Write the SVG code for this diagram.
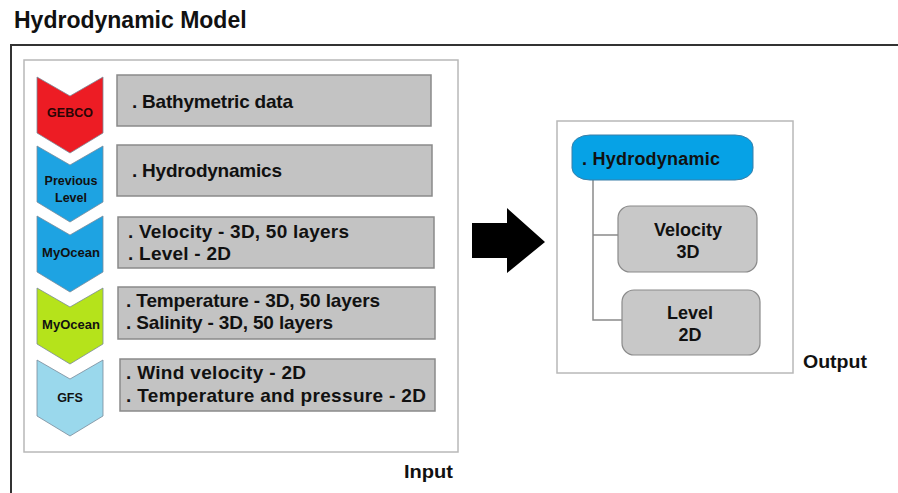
<svg xmlns="http://www.w3.org/2000/svg" width="898" height="493" viewBox="0 0 898 493">
<style>
text{font-family:"Liberation Sans",Arial,sans-serif;font-weight:bold;fill:#111}
.t{font-size:19px}
.c{font-size:12.5px;text-anchor:middle}
.box{fill:#c3c3c3;stroke:#8a8a8a;stroke-width:1.5}
.chev{stroke:#7a8a99;stroke-width:0.8}
.rb{fill:#c8c8c8;stroke:#8a8a8a;stroke-width:1.2}
.frame{fill:#fff;stroke:#b8b8b8;stroke-width:1.5}
.conn{fill:none;stroke:#8a8a8a;stroke-width:1.5}
</style>
<defs>
<path id="chev" d="M0,0 L33,19 L66,0 L66,56 L33,76 L0,56 Z"/>
</defs>
<rect width="898" height="493" fill="#fff"/>
<text x="14" y="28" style="font-size:23px">Hydrodynamic Model</text>
<path d="M11,493 V45 H898" fill="none" stroke="#333" stroke-width="2"/>

<g id="input">
<rect class="frame" x="24" y="60" width="434" height="392"/>
<text class="t" x="404" y="478" textLength="49" lengthAdjust="spacingAndGlyphs">Input</text>
</g>

<g id="gebco">
<use href="#chev" x="37" y="77" fill="#ed1c24" class="chev"/>
<text class="c" x="70" y="117" style="fill:#2a0505">GEBCO</text>
</g>
<g id="previous-level">
<use href="#chev" x="37" y="146" fill="#1ea3e2" class="chev"/>
<text class="c" x="71" y="185">Previous</text>
<text class="c" x="71" y="202">Level</text>
</g>
<g id="myocean-1">
<use href="#chev" x="37" y="216" fill="#1ea3e2" class="chev"/>
<text class="c" x="71" y="257" style="font-size:13px">MyOcean</text>
</g>
<g id="myocean-2">
<use href="#chev" x="37" y="288" fill="#b5e31b" class="chev"/>
<text class="c" x="71" y="329" style="font-size:13px">MyOcean</text>
</g>
<g id="gfs">
<use href="#chev" x="37" y="360" fill="#9ad8ec" class="chev"/>
<text class="c" x="70" y="402">GFS</text>
</g>

<g id="bathymetric">
<rect class="box" x="117" y="75" width="314" height="51"/>
<text class="t" x="132" y="108" textLength="161">. Bathymetric data</text>
</g>
<g id="hydrodynamics">
<rect class="box" x="117" y="145" width="315" height="51"/>
<text class="t" x="132" y="177" textLength="150">. Hydrodynamics</text>
</g>
<g id="velocity-level">
<rect class="box" x="118" y="217" width="316" height="51"/>
<text class="t" x="128" y="238" textLength="221">. Velocity - 3D, 50 layers</text>
<text class="t" x="128" y="260" textLength="103">. Level - 2D</text>
</g>
<g id="temperature-salinity">
<rect class="box" x="118" y="287" width="317" height="52"/>
<text class="t" x="126" y="307" textLength="254">. Temperature - 3D, 50 layers</text>
<text class="t" x="126" y="329" textLength="207">. Salinity - 3D, 50 layers</text>
</g>
<g id="wind-temperature">
<rect class="box" x="120" y="359" width="315" height="52"/>
<text class="t" x="126" y="379" textLength="180">. Wind velocity - 2D</text>
<text class="t" x="126" y="402" textLength="300">. Temperature and pressure - 2D</text>
</g>

<g id="big-arrow">
<path d="M472,223 H507 V208 L545,242 L507,273 V258 H472 Z" fill="#000"/>
</g>

<g id="output">
<rect class="frame" x="557" y="121" width="236" height="252"/>
<text class="t" x="803" y="368" textLength="64" lengthAdjust="spacingAndGlyphs">Output</text>
</g>

<g id="connectors">
<path class="conn" d="M593,180 V320 H622 M593,235 H618"/>
</g>

<g id="hydrodynamic">
<rect x="572" y="135" width="181" height="45" rx="18" ry="12" fill="#06a2e6" stroke="#3a7fa8" stroke-width="1"/>
<text x="582" y="165" style="font-size:18px" textLength="138">. Hydrodynamic</text>
</g>
<g id="velocity-3d">
<rect class="rb" x="618" y="206" width="139" height="66" rx="12"/>
<text x="688" y="236" style="font-size:18px" text-anchor="middle">Velocity</text>
<text x="688" y="258" style="font-size:18px" text-anchor="middle">3D</text>
</g>
<g id="level-2d">
<rect class="rb" x="622" y="290" width="138" height="65" rx="12"/>
<text x="690" y="319" style="font-size:18px" text-anchor="middle">Level</text>
<text x="690" y="341" style="font-size:18px" text-anchor="middle">2D</text>
</g>
</svg>
